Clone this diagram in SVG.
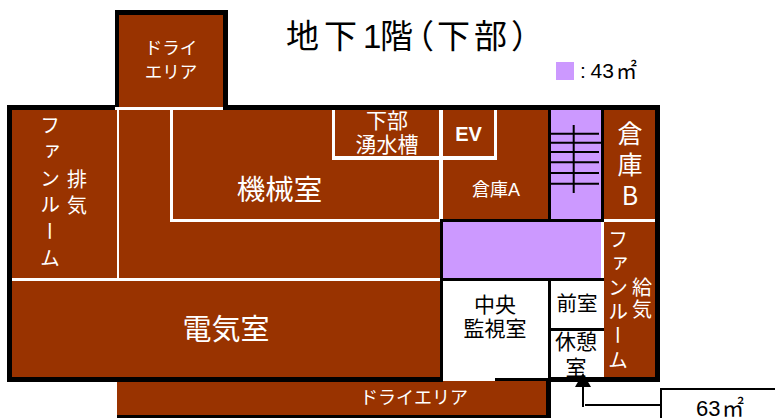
<svg xmlns="http://www.w3.org/2000/svg" width="775" height="418" viewBox="0 0 775 418">
<style>
text{font-family:"Noto Sans CJK JP","Liberation Sans",sans-serif;text-anchor:middle}
.w{fill:#fff}.k{fill:#000}
.room{fill:#993300}.pur{fill:#cc99ff}.wh{fill:#fff}
.bk{fill:#000}
.wl{fill:#fff}
.s{stroke:#000;stroke-width:2;fill:none}
.v{writing-mode:vertical-rl;text-orientation:upright;text-anchor:start}
.l{font-family:"Liberation Sans",sans-serif}
.st{text-anchor:start}
</style>
<rect width="775" height="418" fill="#fff"/>
<g id="plan">
<rect class="room" x="12" y="110" width="643" height="267"/>
<rect class="room" x="119" y="15" width="104" height="95"/>
<rect class="room" x="117" y="381" width="429" height="34"/>
<rect class="pur" x="551" y="110" width="50" height="109"/>
<rect class="pur" x="443" y="222" width="158" height="56"/>
<rect class="wh" x="443" y="281" width="161" height="97"/>
<rect class="wl" x="117" y="107" width="2" height="174"/>
<rect class="wl" x="119" y="107" width="104" height="3"/>
<rect class="wl" x="170" y="110" width="3" height="111"/>
<rect class="wl" x="170" y="219" width="270" height="3"/>
<rect class="wl" x="12" y="278" width="428" height="3"/>
<rect class="wl" x="332" y="110" width="3" height="50"/>
<rect class="wl" x="332" y="156" width="165" height="4"/>
<rect class="wl" x="494" y="110" width="3" height="50"/>
<rect class="wl" x="439" y="110" width="4" height="109"/>
<rect class="wl" x="604" y="219" width="51" height="3"/>
<rect class="wl" x="601" y="222" width="3" height="56"/>
<rect class="bk" x="7" y="105" width="108" height="5"/>
<rect class="bk" x="228" y="105" width="432" height="5"/>
<rect class="bk" x="115" y="10" width="113" height="5"/>
<rect class="bk" x="115" y="10" width="4" height="97"/>
<rect class="bk" x="223" y="10" width="5" height="100"/>
<rect class="bk" x="7" y="105" width="5" height="277"/>
<rect class="bk" x="655" y="105" width="5" height="277"/>
<rect class="bk" x="7" y="377" width="436" height="5"/>
<rect class="bk" x="548" y="377" width="112" height="5"/>
<rect class="bk" x="495" y="378" width="53" height="3"/>
<rect class="bk" x="440" y="219" width="3" height="163"/>
<rect class="bk" x="440" y="219" width="164" height="3"/>
<rect class="bk" x="440" y="278" width="164" height="3"/>
<rect class="bk" x="548" y="110" width="3" height="109"/>
<rect class="bk" x="601" y="110" width="3" height="109"/>
<rect class="bk" x="548" y="281" width="3" height="96"/>
<rect class="bk" x="551" y="328" width="53" height="3"/>
<rect class="bk" x="546" y="378" width="5" height="40"/>
<rect class="bk" x="117" y="415" width="434" height="3"/>
<path class="s" d="M548 133.700H599M548 142.700H601M548 152H599M548 162.300H599M548 173H599M548 183.700H599M573.700 125V193"/>
</g>
<g id="title"><text class="k st" y="48" font-size="33" x="286 324 363 380 401 437 474 511">地下<tspan class="l">1</tspan>階（下部）</text></g>
<g id="legend"><rect class="pur" x="556" y="62" width="18" height="18"/><text class="k st" y="78" font-size="21"><tspan class="l" x="580">:</tspan><tspan class="l" x="590.500">43</tspan><tspan x="616">㎡</tspan></text></g>
<g id="labels">
<text class="w" font-size="17.500"><tspan x="171" y="54">ドライ</tspan><tspan x="171" y="78">エリア</tspan></text>
<text class="w v" font-size="20" letter-spacing="6.600" x="50" y="115">ファンルーム</text>
<text class="w v" font-size="20" letter-spacing="6.500" x="77" y="169">排気</text>
<text class="w" font-size="28.500" x="279.500" y="200">機械室</text>
<text class="w" font-size="21"><tspan x="387" y="128">下部</tspan><tspan x="387" y="152">湧水槽</tspan></text>
<text x="468.500" y="141" class="w l" font-size="20" font-weight="700">EV</text>
<text class="w" font-size="18" x="496" y="196">倉庫<tspan class="l">A</tspan></text>
<text class="w v" font-size="25" letter-spacing="6" x="630" y="121">倉庫B</text>
<text class="w v" font-size="20" letter-spacing="4.200" x="618" y="229">ファンルーム</text>
<text class="w v" font-size="20" letter-spacing="2.500" x="642" y="277">給気</text>
<text class="w" font-size="29" x="226" y="340">電気室</text>
<text class="k" font-size="21"><tspan x="495" y="312">中央</tspan><tspan x="495" y="336">監視室</tspan></text>
<text class="k" font-size="20.500" x="577" y="311">前室</text>
<text class="k" font-size="21"><tspan x="576" y="349">休憩</tspan><tspan x="576" y="375">室</tspan></text>
<text class="w" font-size="18" x="414" y="404">ドライエリア</text>
</g>
<g id="connectors">
<path d="M583 387V407M585 405H661" stroke="#000" stroke-width="2" fill="none"/>
<path d="M583 373L591 387H575Z" fill="#000"/>
<rect x="661" y="389" width="120" height="40" fill="#fff" stroke="#000" stroke-width="2"/>
</g>
<g id="note"><text class="k st" font-size="22" y="416"><tspan class="l" x="696">63</tspan><tspan x="722">㎡</tspan></text></g>
</svg>
